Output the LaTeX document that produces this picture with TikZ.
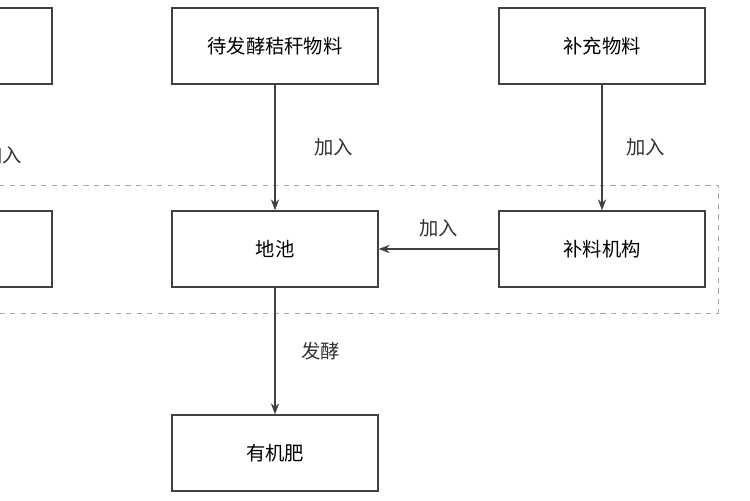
\documentclass[tikz,border=0pt]{standalone}
\usepackage{fontspec}
\setmainfont{Noto Sans CJK SC}
\usetikzlibrary{positioning,arrows.meta}
\tikzset{
  stepbox/.style={rectangle, draw=black!75, thick, minimum width=4.12cm, minimum height=1.52cm, font=\fontsize{11}{13}\selectfont},
  fwd/.style={-{Stealth[length=2.2mm]}, thick, draw=black!75},
  lbl/.style={font=\fontsize{11}{13}\selectfont, text=black!80},
  frame/.style={dashed, draw=black!35},
}
\begin{document}
\begin{tikzpicture}[x=0.02cm, y=-0.02cm]
  \useasboundingbox (0,0) rectangle (750,500);
  \clip (0,0) rectangle (750,500);
  \draw[frame] (-20,185) rectangle (718,313);

  \node[stepbox] (straw) at (275,46) {待发酵秸秆物料};
  \node[stepbox] (extra) at (602,46) {补充物料};
  \node[stepbox] (pond) at (275,249) {地池};
  \node[stepbox] (feeder) at (602,249) {补料机构};
  \node[stepbox] (manure) at (275,453) {有机肥};
  \node[stepbox] (lefttop) at (-51,46) {};
  \node[stepbox] (leftbot) at (-51,249) {};

  \draw[fwd] (straw) -- (pond) node[midway, right=0.65cm, lbl] {加入};
  \draw[fwd] (extra) -- (feeder) node[midway, right=0.35cm, lbl] {加入};
  \draw[fwd] (feeder) -- (pond) node[midway, above=0.1cm, lbl] {加入};
  \draw[fwd] (pond) -- (manure) node[midway, right=0.4cm, lbl] {发酵};
  \node[lbl, anchor=east] (leftlbl) at (28,155) {加入};
\end{tikzpicture}
\end{document}
